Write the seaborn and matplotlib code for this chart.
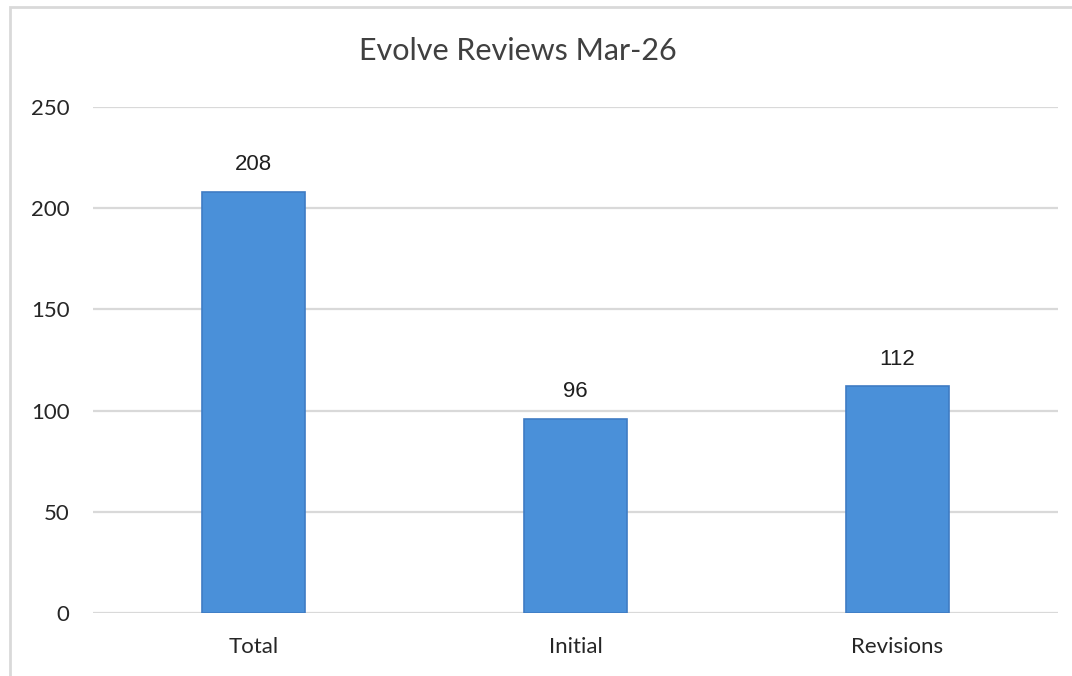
import matplotlib
matplotlib.use("Agg")
import matplotlib.pyplot as plt
import seaborn as sns
import pandas as pd
from matplotlib.patches import Rectangle

# ----------------------------
# Data
# ----------------------------

categories = ["Total", "Initial", "Revisions"]
reviews = [208, 96, 112]
y_ticks = [0, 50, 100, 150, 200, 250]

df = pd.DataFrame({"category": categories, "reviews": reviews})

# ----------------------------
# Figure
# ----------------------------

sns.set_style("white")
plt.rcParams["font.family"] = ["Lato", "DejaVu Sans"]

fig = plt.figure(figsize=(10.72, 6.76), dpi=100)
ax = fig.add_axes([0.0868, 0.0932, 0.9002, 0.7485])

sns.barplot(
    data=df,
    x="category",
    y="reviews",
    color="#4A90D9",
    saturation=1,
    edgecolor="#3F7CC4",
    linewidth=1.2,
    width=0.32,
    ax=ax,
    zorder=3,
)

ax.set_ylim(0, 250)
ax.set_xlim(-0.5, 2.5)
ax.set_yticks(y_ticks)
ax.yaxis.grid(True, color="#D9D9D9", linewidth=1.6, zorder=0)
ax.set_axisbelow(True)
sns.despine(ax=ax, left=True, top=True, right=True, bottom=True)
ax.axhline(0, color="#D9D9D9", linewidth=1.8, zorder=1)

ax.tick_params(axis="both", length=0, labelsize=16, colors="#262626")
ax.tick_params(axis="y", pad=17)
ax.tick_params(axis="x", pad=17)
ax.set_xlabel("")
ax.set_ylabel("")

for container in ax.containers:
    ax.bar_label(container, padding=12, fontsize=16, color="#1F1F1F",
                 family=["Liberation Sans", "DejaVu Sans"])

fig.text(518 / 1072, 1 - 51 / 676, "Evolve Reviews Mar-26",
         ha="center", va="center", fontsize=22, color="#404040")

# outer chart border (left and top visible)
fig.patches.append(Rectangle((10 / 1072, -0.1), 1.2, 1 - 7 / 676 + 0.1,
                             transform=fig.transFigure, fill=False,
                             edgecolor="#D9D9D9", linewidth=2))

plt.savefig("out.png", dpi=100)
